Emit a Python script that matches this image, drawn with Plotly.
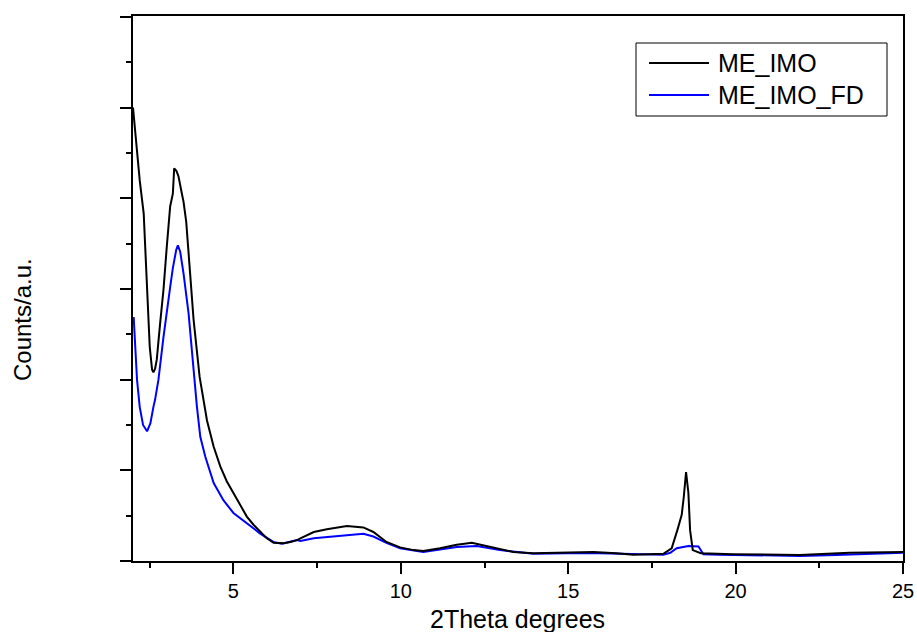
import plotly.graph_objects as go

# 2Theta (degrees) and counts (arbitrary units)
me_imo_x = [2.0, 2.1, 2.2, 2.32, 2.42, 2.5, 2.57, 2.61, 2.66, 2.71, 2.81, 2.91, 3.01, 3.11, 3.19, 3.23,
            3.3, 3.36, 3.46, 3.51, 3.59, 3.66, 3.81, 3.99, 4.1, 4.21, 4.41, 4.61, 4.8, 5.0, 5.2, 5.4,
            5.6, 5.8, 6.0, 6.2, 6.5, 6.7, 6.9, 7.0, 7.4, 7.79, 8.39, 8.88, 9.18, 9.57, 9.98, 10.38,
            10.67, 11.17, 11.67, 12.12, 12.57, 12.96, 13.36, 13.96, 14.95, 15.75, 16.44, 16.94,
            17.84, 18.09, 18.26, 18.39, 18.45, 18.52, 18.59, 18.64, 18.72, 18.96, 19.93, 21.92,
            23.41, 25.0]
me_imo_y = [5.0, 4.6, 4.2, 3.83, 3.10, 2.36, 2.11, 2.08, 2.12, 2.22, 2.62, 2.99, 3.47, 3.91, 4.05, 4.33,
            4.30, 4.24, 4.05, 3.96, 3.74, 3.36, 2.66, 2.03, 1.78, 1.55, 1.26, 1.04, 0.88, 0.75, 0.61, 0.49,
            0.40, 0.32, 0.25, 0.20, 0.195, 0.21, 0.23, 0.25, 0.32, 0.35, 0.386, 0.37, 0.32, 0.21, 0.15, 0.12,
            0.11, 0.14, 0.18, 0.20, 0.165, 0.13, 0.10, 0.085, 0.095, 0.10, 0.085, 0.07,
            0.08, 0.14, 0.34, 0.51, 0.70, 0.98, 0.75, 0.34, 0.12, 0.085, 0.075, 0.066,
            0.09, 0.10]

me_imo_fd_x = [2.02, 2.12, 2.2, 2.3, 2.42, 2.52, 2.61, 2.66, 2.76, 2.91, 3.11, 3.19, 3.29, 3.34, 3.41,
               3.51, 3.66, 3.81, 3.91, 4.01, 4.16, 4.41, 4.7, 5.0, 5.4, 5.79, 6.19, 6.45, 6.9, 7.0,
               7.4, 7.99, 8.88, 9.18, 9.57, 9.98, 10.67, 11.67, 12.27, 12.96, 13.96, 14.95, 15.94,
               17.84, 18.05, 18.24, 18.59, 18.89, 19.04, 19.5, 20.5, 21.92, 23.0, 25.0]
me_imo_fd_y = [2.69, 2.0, 1.7, 1.5, 1.43, 1.52, 1.70, 1.78, 2.0, 2.47, 3.02, 3.23, 3.43, 3.48, 3.41,
               3.17, 2.73, 2.05, 1.70, 1.37, 1.15, 0.86, 0.67, 0.53, 0.415, 0.305, 0.21, 0.19, 0.23, 0.22,
               0.25, 0.27, 0.30, 0.27, 0.20, 0.14, 0.10, 0.155, 0.165, 0.12, 0.08, 0.085, 0.085,
               0.07, 0.09, 0.14, 0.165, 0.16, 0.075, 0.07, 0.065, 0.055, 0.066, 0.09]

series_names = ["ME_IMO", "ME_IMO_FD"]
series_colors = ["#000000", "#0000ff"]
x_tick_vals = [5, 10, 15, 20, 25]
x_tick_text = ["5", "10", "15", "20", "25"]

FONT = "Arial, Liberation Sans, sans-serif"
W, H = 917, 632
# target plot area on screen: x 133..903, y 16..561
ML, MR, MT, MB = 133, W - 903, 16, H - 561
PW, PH = W - ML - MR, H - MT - MB

def px(xs):
    return (xs - ML) / PW

def py(ys):
    return (H - MB - ys) / PH

fig = go.Figure()
# blue first so the black trace is drawn on top, as in the reference
fig.add_trace(go.Scatter(x=me_imo_fd_x, y=me_imo_fd_y, mode="lines", name=series_names[1],
                         line=dict(color=series_colors[1], width=2), showlegend=False))
fig.add_trace(go.Scatter(x=me_imo_x, y=me_imo_y, mode="lines", name=series_names[0],
                         line=dict(color=series_colors[0], width=2), showlegend=False))

fig.update_layout(
    width=W, height=H,
    margin=dict(l=ML, r=MR, t=MT, b=MB, autoexpand=False),
    paper_bgcolor="white", plot_bgcolor="white",
    font=dict(family=FONT, color="black"),
    showlegend=False,
)
fig.update_xaxes(
    range=[2, 25], tickvals=x_tick_vals, ticktext=x_tick_text,
    ticks="outside", ticklen=11, tickwidth=2, tickcolor="black",
    tickfont=dict(size=20, family=FONT, color="black"),
    minor=dict(tickvals=[2.5, 7.5, 12.5, 17.5, 22.5], ticks="outside", ticklen=5, tickwidth=2,
               tickcolor="black", showgrid=False),
    showline=True, linewidth=2, linecolor="black", mirror=True,
    showgrid=False, zeroline=False, automargin=False,
)
fig.update_yaxes(
    range=[0, 6.01], tick0=0, dtick=1,
    ticks="outside", ticklen=11, tickwidth=2, tickcolor="black",
    showticklabels=False,
    minor=dict(dtick=0.5, ticks="outside", ticklen=5, tickwidth=2, tickcolor="black", showgrid=False),
    showline=True, linewidth=2, linecolor="black", mirror=True,
    showgrid=False, zeroline=False, automargin=False,
)

# axis titles
fig.add_annotation(text="2Theta degrees", xref="paper", yref="paper", x=px(517.5), y=py(619),
                   showarrow=False, xanchor="center", yanchor="middle",
                   font=dict(size=25, family=FONT, color="black"))
fig.add_annotation(text="Counts/a.u.", xref="paper", yref="paper", x=px(22), y=py(320),
                   showarrow=False, xanchor="center", yanchor="middle", textangle=-90,
                   font=dict(size=24, family=FONT, color="black"))

# legend box drawn manually
fig.add_shape(type="rect", xref="paper", yref="paper", x0=px(636), x1=px(887), y0=py(116), y1=py(43),
              line=dict(color="black", width=1), fillcolor="white", layer="above")
for i, (name, col) in enumerate(zip(series_names, series_colors)):
    yc = [63, 95][i]
    fig.add_shape(type="line", xref="paper", yref="paper", x0=px(649), x1=px(709), y0=py(yc), y1=py(yc),
                  line=dict(color=col, width=2), layer="above")
    fig.add_annotation(text=name, xref="paper", yref="paper", x=px(716), y=py(yc), showarrow=False,
                       xanchor="left", yanchor="middle", font=dict(size=25, family=FONT, color="black"))

fig.write_html("out.html", config={"displayModeBar": False},
               post_script="document.body.style.margin='0';document.body.style.overflow='hidden';")
